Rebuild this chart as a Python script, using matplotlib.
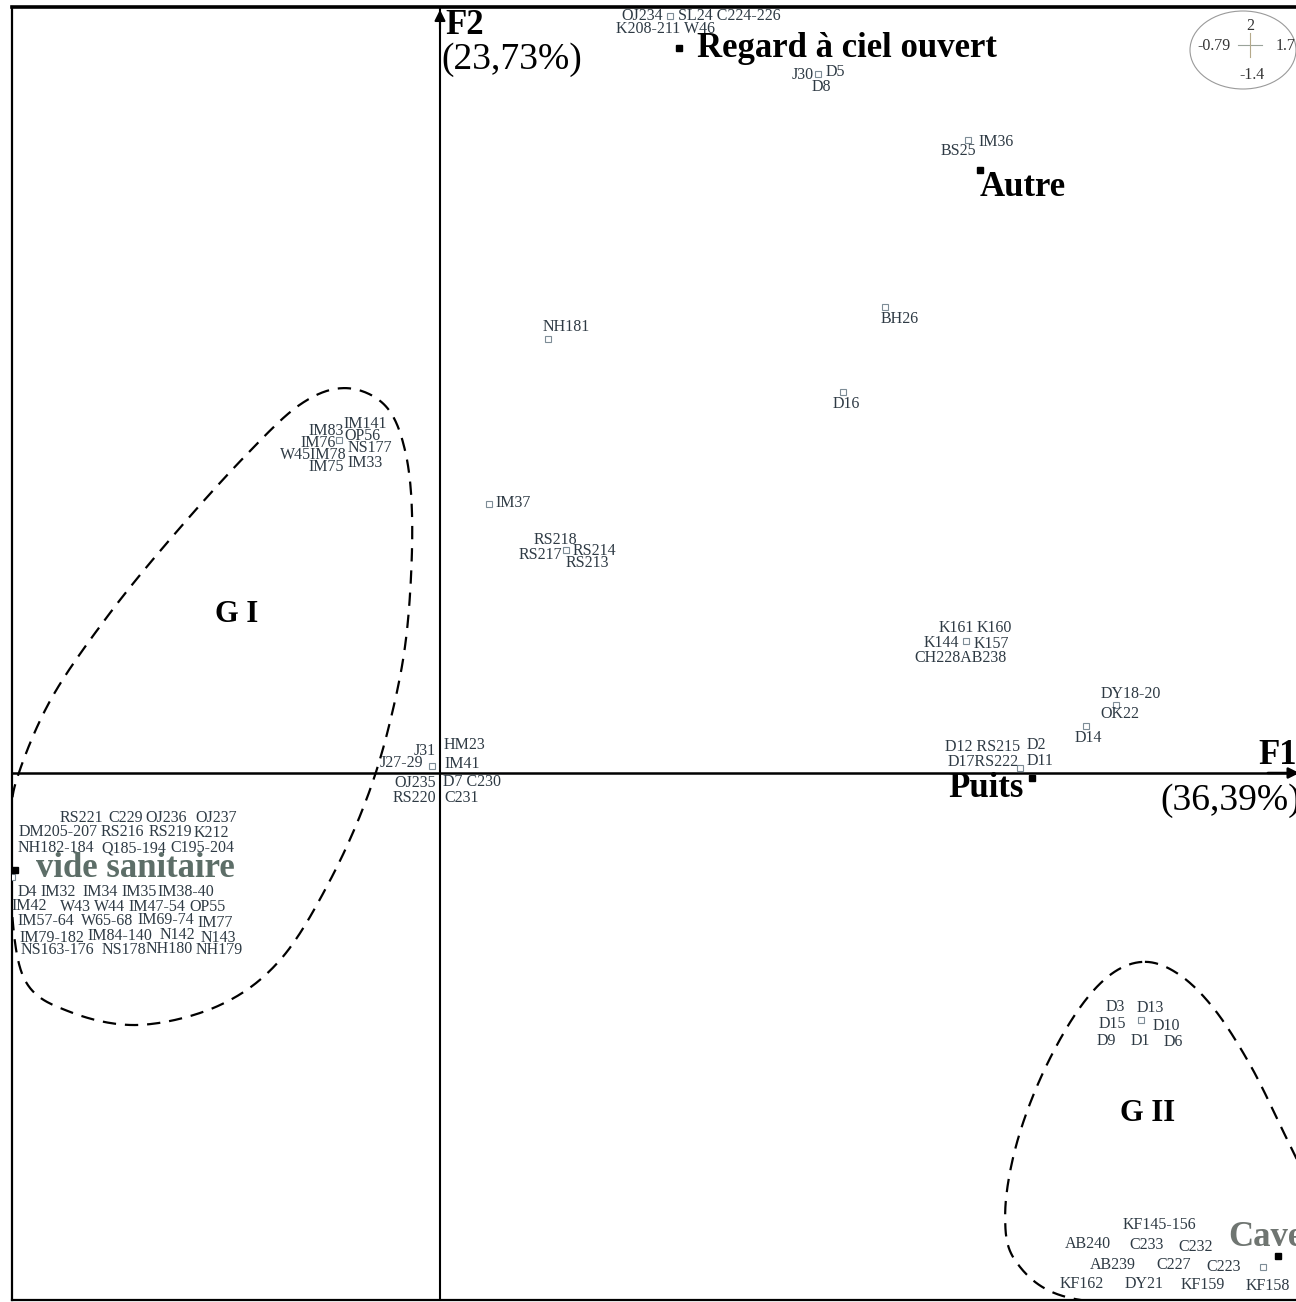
import numpy as np
import matplotlib.pyplot as plt
from matplotlib.patches import Ellipse

plt.rcParams['font.family'] = ['Liberation Serif', 'DejaVu Serif']

# individuals on the F1/F2 plane (superposed individuals share one point)
pt_x = [0.446, 0.733, 1.024, 0.863, 0.209, 0.781, 0.095, 0.244, -0.196,
        1.020, 1.311, 1.253, 1.125, -0.016, -0.830, 1.359, 1.596]
pt_y = [1.992, 1.839, 1.666, 1.226, 1.142, 1.003, 0.708, 0.587, 0.876,
        0.347, 0.179, 0.124, 0.013, 0.018, -0.274, -0.650, -1.300]
pt_names = [
    ['OJ234', 'SL24 C224-226', 'K208-211 W46'],
    ['J30', 'D5', 'D8'],
    ['IM36', 'BS25'],
    ['BH26'],
    ['NH181'],
    ['D16'],
    ['IM37'],
    ['RS218', 'RS217', 'RS214', 'RS213'],
    ['IM141', 'IM83', 'OP56', 'IM76', 'NS177', 'W45IM78', 'IM75', 'IM33'],
    ['K161', 'K160', 'K144', 'K157', 'CH228AB238'],
    ['DY18-20', 'OK22'],
    ['D14'],
    ['D12 RS215', 'D2', 'D17RS222', 'D11'],
    ['J31', 'HM23', 'J27-29', 'IM41', 'OJ235', 'D7 C230', 'RS220', 'C231'],
    ['RS221', 'C229', 'OJ236', 'OJ237',
     'DM205-207', 'RS216', 'RS219', 'K212',
     'NH182-184', 'Q185-194', 'C195-204',
     'D4', 'IM32', 'IM34', 'IM35', 'IM38-40',
     'IM42', 'W43', 'W44', 'IM47-54', 'OP55',
     'IM57-64', 'W65-68', 'IM69-74', 'IM77',
     'IM79-182', 'IM84-140', 'N142', 'N143',
     'NS163-176', 'NS178', 'NH180', 'NH179'],
    ['D3', 'D13', 'D15', 'D10', 'D9', 'D1', 'D6'],
    ['KF145-156', 'AB240', 'C233', 'C232', 'AB239', 'C227', 'C223',
     'KF162', 'DY21', 'KF159', 'KF158'],
]

# supplementary modalities: type of structure
mod_names = ['Regard à ciel ouvert', 'Autre', 'Puits', 'vide sanitaire', 'Cave']
mod_x = [0.463, 1.047, 1.148, -0.824, 1.625]
mod_y = [1.908, 1.587, -0.013, -0.255, -1.271]

# explained inertia of the two axes (%)
inertia = ['23,73', '36,39']
# extreme coordinates shown in the scale box
scale_vals = ['2', '-0.79', '1.7', '-1.4']

# hand-drawn group outlines
g1_x = [-0.818, -0.752, -0.640, -0.514, -0.378, -0.271, -0.184, -0.107, -0.068,
        -0.054, -0.062, -0.087, -0.136, -0.213, -0.310, -0.427, -0.582, -0.717,
        -0.805, -0.832, -0.832]
g1_y = [-0.005, 0.200, 0.421, 0.630, 0.834, 0.970, 1.013, 0.968, 0.850,
        0.666, 0.403, 0.192, -0.045, -0.282, -0.492, -0.611, -0.663, -0.629,
        -0.545, -0.334, -0.124]
g2_x = [1.367, 1.435, 1.503, 1.571, 1.629, 1.687, 1.726, 1.668, 1.377,
        1.202, 1.115, 1.096, 1.115, 1.163, 1.231, 1.299]
g2_y = [-0.497, -0.532, -0.624, -0.768, -0.926, -1.097, -1.282, -1.400, -1.400,
        -1.374, -1.282, -1.163, -0.992, -0.808, -0.637, -0.532]

# label offsets around each point, in pixels (right, up)
pt_offsets = [
    [(-28, 0), (59, 0), (-4, -13)],
    [(-15, -1), (17, 2), (3, -13)],
    [(28, -2), (-10, -11)],
    [(15, -12)],
    [(18, 12)],
    [(4, -12)],
    [(24, 1)],
    [(-10, 10), (-25, -5), (29, -1), (22, -13)],
    [(26, 16), (-13, 9), (24, 4), (-21, -3), (31, -8), (-26, -15), (-13, -27), (26, -23)],
    [(-10, 13), (28, 13), (-25, -2), (25, -3), (-5, -17)],
    [(15, 11), (4, -9)],
    [(2, -12)],
    [(-38, 21), (16, 23), (-37, 6), (20, 7)],
    [(-7, 15), (33, 21), (-30, 3), (30, 2), (-17, -17), (40, -16), (-17, -32), (30, -32)],
    [(69, 59), (114, 59), (154, 59), (204, 59),
     (46, 45), (110, 45), (158, 45), (199, 44),
     (44, 29), (122, 29), (190, 29),
     (15, -15), (46, -15), (88, -15), (127, -15), (174, -15),
     (17, -29), (63, -30), (98, -30), (145, -30), (196, -30),
     (34, -44), (95, -44), (154, -43), (203, -46),
     (40, -61), (108, -59), (165, -58), (206, -61),
     (45, -73), (112, -73), (157, -72), (207, -73)],
    [(-26, 13), (9, 12), (-28, -4), (26, -6), (-34, -21), (0, -21), (32, -22)],
    [(-104, 42), (-175, 23), (-116, 22), (-67, 20), (-150, 2), (-89, 2), (-39, 0),
     (-181, -17), (-119, -17), (-60, -18), (5, -19)],
]
mod_offsets = [(18, 0, 'left'), (0, -17, 'left'), (-8, -11, 'right'),
               (21, 1, 'left'), (-50, 18, 'left')]
mod_colors = ['black', 'black', 'black', '#5d6e68', '#6f7571']
lab_color = '#2e3a44'


def closed_curve(x, y, n=30):
    # closed Catmull-Rom spline through the outline points
    p = np.column_stack([x, y])
    m = len(p)
    t = np.linspace(0, 1, n, endpoint=False)[:, None]
    seg = []
    for i in range(m):
        p0, p1, p2, p3 = p[i - 1], p[i], p[(i + 1) % m], p[(i + 2) % m]
        seg.append(0.5 * (2 * p1 + (-p0 + p2) * t
                          + (2 * p0 - 5 * p1 + 4 * p2 - p3) * t ** 2
                          + (-p0 + 3 * p1 - 3 * p2 + p3) * t ** 3))
    c = np.vstack(seg + [seg[0][:1]])
    return c[:, 0], c[:, 1]


fig = plt.figure(figsize=(12.96, 13.02), dpi=100)
ax = fig.add_axes([12 / 1296, 2 / 1302, 1284 / 1296, 1293 / 1302])
ax.set_xlim(-0.830, 1.660)
ax.set_ylim(-1.387, 2.016)
ax.set_xticks([])
ax.set_yticks([])
for s in ['left', 'bottom']:
    ax.spines[s].set_linewidth(1.6)
ax.spines['top'].set_linewidth(2.6)
ax.spines['right'].set_visible(False)

# factorial axes
ax.axhline(0, color='black', lw=1.8, zorder=2)
ax.axvline(0, color='black', lw=1.5, zorder=2)
ax.annotate('', xy=(0, 2.016), xytext=(0, 1.95),
            arrowprops=dict(arrowstyle='-|>', color='black', lw=1.5, mutation_scale=16))
ax.annotate('', xy=(1.672, 0), xytext=(1.60, 0),
            arrowprops=dict(arrowstyle='-|>', color='black', lw=1.8, mutation_scale=16),
            annotation_clip=False)

ax.annotate('F2', xy=(0, 2.016), xytext=(5, -19), textcoords='offset pixels',
            fontsize=25, fontweight='bold', ha='left', va='center')
ax.annotate('(' + inertia[0] + '%)', xy=(0, 2.016), xytext=(1, -53),
            textcoords='offset pixels', fontsize=27, ha='left', va='center')
ax.annotate('F1', xy=(1.660, 0), xytext=(-38, 17), textcoords='offset pixels',
            fontsize=25, fontweight='bold', ha='left', va='center', annotation_clip=False)
ax.annotate('(' + inertia[1] + '%)', xy=(1.660, 0), xytext=(-136, -28),
            textcoords='offset pixels', fontsize=27, ha='left', va='center',
            annotation_clip=False)

# groups
for gx, gy in [(g1_x, g1_y), (g2_x, g2_y)]:
    cx, cy = closed_curve(gx, gy)
    ax.plot(cx, cy, color='black', lw=1.6, ls=(0, (6, 4)), zorder=1)
ax.text(-0.394, 0.418, 'G I', fontsize=22, fontweight='bold', ha='center', va='center')
ax.text(1.373, -0.897, 'G II', fontsize=22, fontweight='bold', ha='center', va='center')

# individuals
ax.plot(pt_x, pt_y, ls='', marker='s', ms=5, mfc='white', mec='#7d8c96',
        mew=0.8, zorder=3)
for x, y, names, offs in zip(pt_x, pt_y, pt_names, pt_offsets):
    for name, (dx, dy) in zip(names, offs):
        ax.annotate(name, (x, y), xytext=(dx, dy), textcoords='offset pixels',
                    fontsize=11.5, color=lab_color, ha='center', va='center',
                    annotation_clip=False, zorder=4)

# modalities
ax.plot(mod_x, mod_y, ls='', marker='s', ms=5, color='black', zorder=5,
        clip_on=False)
for x, y, name, (dx, dy, ha), col in zip(mod_x, mod_y, mod_names, mod_offsets, mod_colors):
    ax.annotate(name, (x, y), xytext=(dx, dy), textcoords='offset pixels',
                fontsize=25, fontweight='bold', color=col, ha=ha, va='center',
                annotation_clip=False, zorder=5)

# scale box
fig.patches.append(Ellipse((1243 / 1296, 1 - 50 / 1302), 106 / 1296, 78 / 1302,
                           transform=fig.transFigure, fill=False,
                           ec='#9a9a9a', lw=0.8))
cxp, cyp = 1250, 1302 - 45
fig.add_artist(plt.Line2D([(cxp - 12) / 1296, (cxp + 12) / 1296], [cyp / 1302] * 2,
                          color='#9aa39a', lw=0.8, transform=fig.transFigure))
fig.add_artist(plt.Line2D([cxp / 1296] * 2, [(cyp - 12) / 1302, (cyp + 12) / 1302],
                          color='#b5a98a', lw=0.8, transform=fig.transFigure))
for (px, py), txt in zip([(1250, 26), (1214, 46), (1286, 46), (1252, 75)], scale_vals):
    fig.text(px / 1296, 1 - py / 1302, txt, fontsize=11.5, color='#333333',
             ha='center', va='center')

fig.savefig('out.png', dpi=100)
